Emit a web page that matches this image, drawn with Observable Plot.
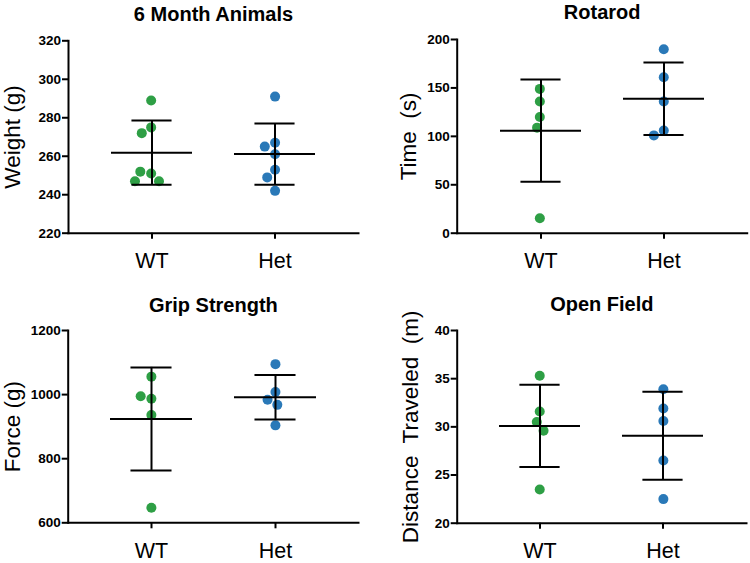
<!DOCTYPE html>
<html><head><meta charset="utf-8">
<script src="https://cdn.jsdelivr.net/npm/d3@7"></script>
<script src="https://cdn.jsdelivr.net/npm/@observablehq/plot@0.6"></script>
<style>
body{margin:0;background:#fff;}
#wrap{position:relative;width:750px;height:563px;overflow:hidden;font-family:"Liberation Sans",Arial,sans-serif;}
#wrap > svg{position:absolute;}
</style></head><body><div id="wrap"></div>
<script>
const groups = ["WT", "Het"];
const groupColors = ["#2e9f45", "#2a79b8"];

const weightWT = [289, 275, 272, 251, 252, 247, 247];
const weightHet = [291, 267, 265, 261, 253, 249, 242];
const rotarodWT = [149, 136, 120, 109, 15.5];
const rotarodHet = [190, 161, 136, 106, 101];
const gripWT = [1056, 987, 995, 936, 647];
const gripHet = [1095, 1008, 984, 968, 904];
const openWT = [35.3, 31.6, 30.5, 29.6, 23.5];
const openHet = [33.9, 31.9, 30.6, 26.5, 22.5];

const titles = ["6 Month Animals", "Rotarod", "Grip Strength", "Open Field"];
const yLabels = ["Weight (g)", "Time  (s)", "Force (g)", "Distance  Traveled  (m)"];
const yTicks1 = [220, 240, 260, 280, 300, 320];
const yTicks2 = [0, 50, 100, 150, 200];
const yTicks3 = [600, 800, 1000, 1200];
const yTicks4 = [20, 25, 30, 35, 40];

const panels = [
  {wt: weightWT, het: weightHet, title: titles[0], ylabel: yLabels[0], ticks: yTicks1,
   left: 0, top: 0, width: 375, height: 280, ml: 68, mr: 17, mt: 40.3, mb: 47.3, tdy: -19.6, ldx: -55.5},
  {wt: rotarodWT, het: rotarodHet, title: titles[1], ylabel: yLabels[1], ticks: yTicks2,
   left: 375, top: 0, width: 375, height: 280, ml: 81.7, mr: 3.3, mt: 39, mb: 47.3, tdy: -20.7, ldx: -48.4},
  {wt: gripWT, het: gripHet, title: titles[2], ylabel: yLabels[2], ticks: yTicks3,
   left: 0, top: 280, width: 375, height: 283, ml: 67.7, mr: 17, mt: 50, mb: 40.7, tdy: -19, ldx: -55.7},
  {wt: openWT, het: openHet, title: titles[3], ylabel: yLabels[3], ticks: yTicks4,
   left: 375, top: 280, width: 375, height: 283, ml: 81.7, mr: 4, mt: 50, mb: 40.3, tdy: -19.3, ldx: -46}
];

const wrap = document.getElementById("wrap");
const pad = 0.34;

for (const p of panels) {
  const data = [
    ...p.wt.map(v => ({group: "WT", value: v})),
    ...p.het.map(v => ({group: "Het", value: v}))
  ];
  const stats = groups.map(g => {
    const vals = data.filter(d => d.group === g).map(d => d.value);
    const m = d3.mean(vals), s = d3.deviation(vals);
    return {group: g, mean: m, lo: m - s, hi: m + s};
  });
  const W = p.width - p.ml - p.mr;
  const step = W / (2 + pad);
  const bw = step * (1 - pad);
  const capInset = bw / 4;

  const chart = Plot.plot({
    width: p.width, height: p.height,
    marginLeft: p.ml, marginRight: p.mr, marginTop: p.mt, marginBottom: p.mb,
    style: {fontFamily: '"Liberation Sans", Arial, sans-serif', color: "#000", background: "transparent", overflow: "visible"},
    x: {domain: groups, padding: pad, axis: null},
    y: {domain: [p.ticks[0], p.ticks[p.ticks.length - 1]], axis: null},
    marks: [
      Plot.axisY({ticks: p.ticks, tickSize: 6, tickPadding: 1.5, fontSize: 13.5, fontWeight: "bold", strokeWidth: 2, label: null, tickFormat: d => String(d)}),
      Plot.axisX({tickSize: 6, tickPadding: 14, fontSize: 21.5, strokeWidth: 2, label: null}),
      Plot.frame({anchor: "left", stroke: "#000", strokeWidth: 2}),
      Plot.frame({anchor: "bottom", stroke: "#000", strokeWidth: 2}),
      ...groups.map((g, i) => Plot.dot(data.filter(d => d.group === g),
        Plot.dodgeX("middle", {y: "value", r: 5, padding: 1.5, fill: groupColors[i],
          dx: (i === 0 ? -step / 2 : step / 2) - bw / 2}))),
      Plot.ruleX(stats, {x: "group", y1: "lo", y2: "hi", stroke: "#000", strokeWidth: 2}),
      Plot.tickY(stats, {x: "group", y: "mean", stroke: "#000", strokeWidth: 2}),
      Plot.tickY(stats, {x: "group", y: "hi", stroke: "#000", strokeWidth: 2, insetLeft: capInset, insetRight: capInset}),
      Plot.tickY(stats, {x: "group", y: "lo", stroke: "#000", strokeWidth: 2, insetLeft: capInset, insetRight: capInset}),
      Plot.text([p.title], {frameAnchor: "top", dy: p.tdy, lineAnchor: "bottom", fontSize: 20, fontWeight: "bold", fill: "#000"}),
      Plot.text([p.ylabel], {frameAnchor: "left", rotate: -90, dx: p.ldx, textAnchor: "middle", lineAnchor: "middle", fontSize: 22.5, fill: "#000"})
    ]
  });
  chart.style.left = p.left + "px";
  chart.style.top = p.top + "px";
  chart.style.whiteSpace = "pre";
  wrap.appendChild(chart);
}
</script>
</body></html>
